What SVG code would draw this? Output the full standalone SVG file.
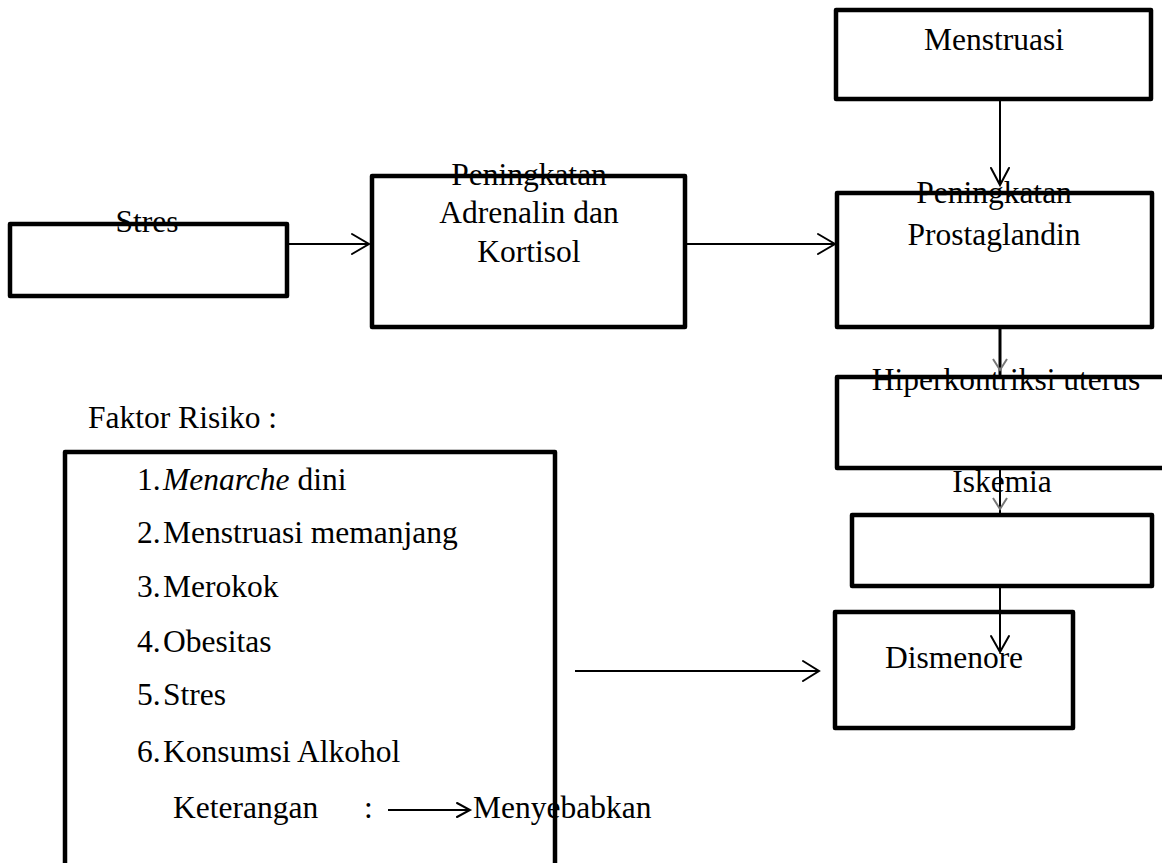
<svg xmlns="http://www.w3.org/2000/svg" width="1162" height="863" viewBox="0 0 1162 863" font-family="Liberation Serif, Times New Roman, serif">
<defs>
<style>
.box{fill:none;stroke:#000;stroke-width:4.5;stroke-linejoin:round}
.t{font-family:'Liberation Serif',serif;font-size:31.5px;fill:#000}
.c{text-anchor:middle}
.ln{fill:none;stroke:#000;stroke-width:2}
.hd{fill:none;stroke:#000;stroke-width:2;stroke-linecap:round;stroke-linejoin:miter}
</style>
</defs>
<rect width="1162" height="863" fill="#fff"/>
<g id="connectors">
<line class="ln" x1="287" y1="244" x2="369" y2="244"/>
<polyline class="hd" points="352,234 369,244 352,254"/>
<line class="ln" x1="685" y1="244" x2="835" y2="244"/>
<polyline class="hd" points="818,234 835,244 818,254"/>
<line class="ln" x1="1000" y1="99" x2="1000" y2="185"/>
<polyline class="hd" points="991,168 1000,185 1009,168"/>
<line x1="1000" y1="327" x2="1000" y2="377" stroke="#000" stroke-width="3"/>
<polyline points="993,359 1000,370 1007,359" fill="none" stroke="#777" stroke-width="2"/>
<line class="ln" x1="1000" y1="468" x2="1000" y2="515"/>
<polyline points="993,498 1000,509 1007,498" fill="none" stroke="#777" stroke-width="2"/>
<line class="ln" x1="1000" y1="586" x2="1000" y2="652"/>
<polyline class="hd" points="991,636 1000,652 1009,636"/>
<line class="ln" x1="575" y1="671" x2="818" y2="671"/>
<polyline class="hd" points="803,661 819,671 803,681"/>
<line class="ln" x1="388" y1="810" x2="470" y2="810"/>
<polyline class="hd" points="457,803 470,810 457,817"/>
</g>
<g id="stres">
<rect class="box" x="10" y="224" width="277" height="72"/>
<text class="t c" x="147" y="232">Stres</text>
</g>
<g id="adrenalin">
<rect class="box" x="372" y="176" width="313" height="151"/>
<text class="t c" x="529" y="185">Peningkatan</text>
<text class="t c" x="529" y="223">Adrenalin dan</text>
<text class="t c" x="529" y="262">Kortisol</text>
</g>
<g id="menstruasi">
<rect class="box" x="836" y="10" width="315" height="89"/>
<text class="t c" x="994" y="50">Menstruasi</text>
</g>
<g id="prostaglandin">
<rect class="box" x="837" y="193" width="315" height="134"/>
<text class="t c" x="994" y="203">Peningkatan</text>
<text class="t c" x="994" y="245">Prostaglandin</text>
</g>
<g id="hiperkontriksi">
<rect class="box" x="837" y="377" width="340" height="91"/>
<text class="t c" x="1006" y="390">Hiperkontriksi uterus</text>
</g>
<g id="iskemia">
<rect class="box" x="852" y="515" width="300" height="71"/>
<text class="t c" x="1002" y="492">Iskemia</text>
</g>
<g id="dismenore">
<rect class="box" x="835" y="612" width="238" height="116"/>
<text class="t c" x="954" y="668">Dismenore</text>
</g>
<g id="faktor-risiko">
<text class="t" x="88" y="428">Faktor Risiko :</text>
<rect class="box" x="65" y="452" width="490" height="430"/>
<text class="t" x="137" y="490">1.</text><text class="t" x="163" y="490"><tspan font-style="italic">Menarche</tspan> dini</text>
<text class="t" x="137" y="543">2.</text><text class="t" x="163" y="543">Menstruasi memanjang</text>
<text class="t" x="137" y="597">3.</text><text class="t" x="163" y="597">Merokok</text>
<text class="t" x="137" y="652">4.</text><text class="t" x="163" y="652">Obesitas</text>
<text class="t" x="137" y="705">5.</text><text class="t" x="163" y="705">Stres</text>
<text class="t" x="137" y="762">6.</text><text class="t" x="163" y="762">Konsumsi Alkohol</text>
<text class="t" x="173" y="818">Keterangan</text>
<text class="t" x="364" y="818">:</text>
<text class="t" x="473" y="818">Menyebabkan</text>
</g>
</svg>
